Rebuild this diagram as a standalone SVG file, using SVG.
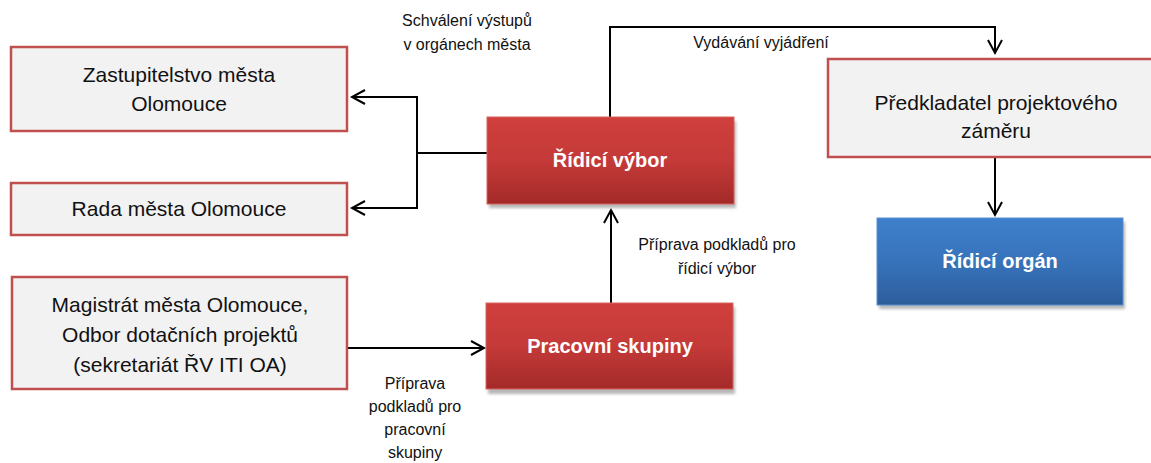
<svg xmlns="http://www.w3.org/2000/svg" width="1151" height="463" viewBox="0 0 1151 463">
<defs>
<linearGradient id="gRed" x1="0" y1="0" x2="0" y2="1">
<stop offset="0" stop-color="#cf3f3d"/>
<stop offset="0.5" stop-color="#c43a38"/>
<stop offset="1" stop-color="#a32a29"/>
</linearGradient>
<linearGradient id="gBlue" x1="0" y1="0" x2="0" y2="1">
<stop offset="0" stop-color="#3e7fcb"/>
<stop offset="0.5" stop-color="#3773bb"/>
<stop offset="1" stop-color="#2c5d9b"/>
</linearGradient>
<filter id="blur" x="-10%" y="-10%" width="120%" height="130%"><feGaussianBlur stdDeviation="1.5"/></filter>
<marker id="arr" markerWidth="20" markerHeight="20" refX="14" refY="8" orient="auto" markerUnits="userSpaceOnUse">
<path d="M1,1 L14,8 L1,15" fill="none" stroke="#000" stroke-width="2"/>
</marker>
</defs>
<style>
.gray{fill:#f2f2f2;stroke:#c0504d;stroke-width:2.5}
.shadow{fill:#9a9a9a;opacity:0.7}
.t{font-family:"Liberation Sans",Arial,sans-serif;fill:#111;text-anchor:middle}
.big{font-size:21px}
.small{font-size:16px}
.bold{font-family:"Liberation Sans",Arial,sans-serif;font-weight:bold;font-size:20px;fill:#fff;text-anchor:middle}
.conn{fill:none;stroke:#000;stroke-width:2}
</style>
<rect width="1151" height="463" fill="#fff"/>

<g id="connectors">
<polyline class="conn" points="487,153 417,153 417,97 352,97" marker-end="url(#arr)"/>
<polyline class="conn" points="417,153 417,208 352,208" marker-end="url(#arr)"/>
<polyline class="conn" points="610,117 610,27 995,27 995,53" marker-end="url(#arr)"/>
<polyline class="conn" points="995,157 995,215" marker-end="url(#arr)"/>
<polyline class="conn" points="611,303 611,210" marker-end="url(#arr)"/>
<polyline class="conn" points="347,348 484,348" marker-end="url(#arr)"/>
</g>

<g id="labels">
<text class="t small" x="467" y="26">Schválení výstupů</text>
<text class="t small" x="467" y="50">v orgánech města</text>
<text class="t small" x="761" y="48">Vydávání vyjádření</text>
<text class="t small" x="717" y="250">Příprava podkladů pro</text>
<text class="t small" x="717" y="274">řídicí výbor</text>
<text class="t small" x="415" y="389">Příprava</text>
<text class="t small" x="415" y="412">podkladů pro</text>
<text class="t small" x="415" y="435">pracovní</text>
<text class="t small" x="415" y="458">skupiny</text>
</g>

<g id="zastupitelstvo">
<rect class="gray" x="11" y="47" width="336" height="84"/>
<text class="t big" x="179" y="82">Zastupitelstvo města</text>
<text class="t big" x="179" y="111">Olomouce</text>
</g>

<g id="rada">
<rect class="gray" x="11" y="183" width="336" height="52"/>
<text class="t big" x="179" y="216">Rada města Olomouce</text>
</g>

<g id="magistrat">
<rect class="gray" x="12" y="277" width="335" height="112"/>
<text class="t big" x="180" y="312">Magistrát města Olomouce,</text>
<text class="t big" x="180" y="342">Odbor dotačních projektů</text>
<text class="t big" x="180" y="372">(sekretariát ŘV ITI OA)</text>
</g>

<g id="ridici-vybor">
<rect class="shadow" x="489" y="121" width="247" height="87" filter="url(#blur)"/>
<rect x="487" y="117" width="247" height="87" fill="url(#gRed)" stroke="#d9625f" stroke-width="1"/>
<text class="bold" x="610" y="167">Řídicí výbor</text>
</g>

<g id="pracovni-skupiny">
<rect class="shadow" x="488" y="307" width="247" height="87" filter="url(#blur)"/>
<rect x="486" y="303" width="247" height="86" fill="url(#gRed)" stroke="#d9625f" stroke-width="1"/>
<text class="bold" x="610" y="353">Pracovní skupiny</text>
</g>

<g id="predkladatel">
<rect class="gray" x="828" y="59" width="330" height="98"/>
<text class="t big" x="996" y="110">Předkladatel projektového</text>
<text class="t big" x="996" y="138">záměru</text>
</g>

<g id="ridici-organ">
<rect class="shadow" x="879" y="222" width="246" height="87" filter="url(#blur)"/>
<rect x="877" y="218" width="246" height="87" fill="url(#gBlue)" stroke="#5a8fd0" stroke-width="1"/>
<text class="bold" x="1000" y="268">Řídicí orgán</text>
</g>
</svg>
